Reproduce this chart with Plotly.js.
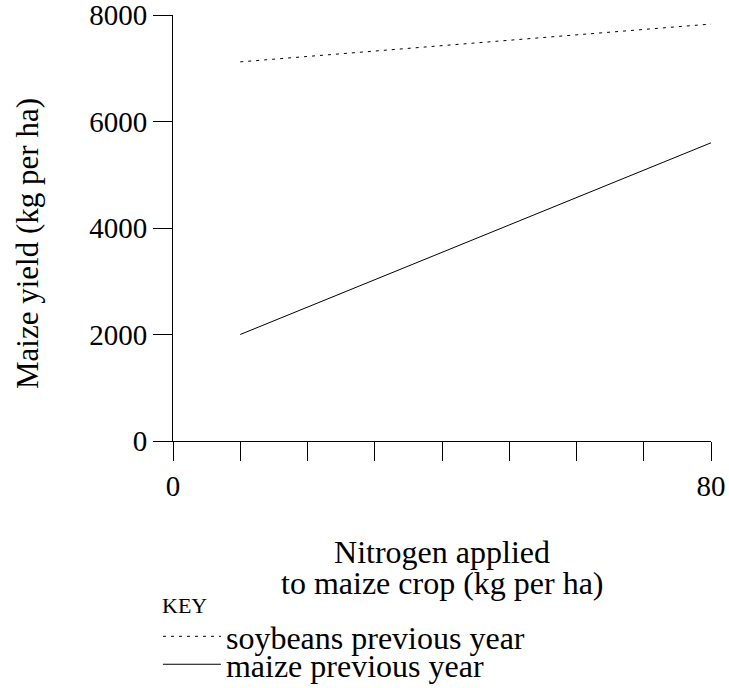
<!DOCTYPE html>
<html>
<head>
<meta charset="utf-8">
<script src="https://cdn.plot.ly/plotly-3.0.1.min.js"></script>
<style>html,body{margin:0;padding:0;background:#fff;}#chart{width:729px;height:688px;}</style>
</head>
<body>
<div id="chart"></div>
<script>
// Data
const nitrogen = [10, 80];
const soybeansPrev = [7120, 7830];
const maizePrev = [2000, 5600];
const xTickVals = [0, 10, 20, 30, 40, 50, 60, 70, 80];
const xTickText = ['0', '', '', '', '', '', '', '', '80'];
const yTickVals = [0, 2000, 4000, 6000, 8000];
const yTickText = ['0', '2000', '4000', '6000', '8000'];
const seriesNames = ['soybeans previous year', 'maize previous year'];

const serif = '"Liberation Serif", "Times New Roman", serif';

const traces = [
  {x: nitrogen, y: soybeansPrev, mode: 'lines', name: seriesNames[0], legend: 'legend',
   line: {color: '#000', width: 1, dash: '3px,5px'}},
  {x: nitrogen, y: maizePrev, mode: 'lines', name: seriesNames[1], legend: 'legend2',
   line: {color: '#000', width: 1}}
];

const legendCommon = {
  xanchor: 'left', yanchor: 'top',
  font: {size: 32, family: serif, color: '#000'},
  bgcolor: 'rgba(0,0,0,0)', borderwidth: 0, itemwidth: 58
};

const layout = {
  width: 729, height: 688,
  margin: {l: 173, r: 18, t: 15, b: 247, autoexpand: false},
  paper_bgcolor: '#fff', plot_bgcolor: '#fff',
  font: {family: serif, size: 29, color: '#000'},
  showlegend: true,
  legend: Object.assign({}, legendCommon, {x: -0.028, y: -0.3944}),
  legend2: Object.assign({}, legendCommon, {x: -0.028, y: -0.460}),
  xaxis: {
    range: [0, 80], tickvals: xTickVals, ticktext: xTickText,
    ticks: 'outside', ticklen: 19, tickcolor: '#000', tickwidth: 1,
    showline: true, linecolor: '#000', linewidth: 1,
    showgrid: false, zeroline: false, ticklabeloverflow: 'allow',
    tickfont: {size: 29, family: serif, color: '#000'},
    title: {text: 'Nitrogen applied', font: {size: 32, family: serif, color: '#000'}, standoff: 39}
  },
  yaxis: {
    range: [0, 8000], tickvals: yTickVals, ticktext: yTickText,
    ticks: 'outside', ticklen: 19, tickcolor: '#000', tickwidth: 1,
    showline: true, linecolor: '#000', linewidth: 1,
    showgrid: false, zeroline: false, ticklabeloverflow: 'allow',
    tickfont: {size: 29, family: serif, color: '#000'},
    title: {text: 'Maize yield (kg per ha)&nbsp;&nbsp;&nbsp;&nbsp;', font: {size: 31, family: serif, color: '#000'}, standoff: 41}
  },
  annotations: [
    {text: 'to maize crop (kg per ha)', xref: 'paper', yref: 'paper', x: 0.5, y: -0.334,
     xanchor: 'center', yanchor: 'middle', showarrow: false,
     font: {size: 32, family: serif, color: '#000'}},
    {text: 'KEY', xref: 'paper', yref: 'paper', x: -0.0242, y: -0.385,
     xanchor: 'left', yanchor: 'middle', showarrow: false,
     font: {size: 22, family: serif, color: '#000'}}
  ]
};

Plotly.newPlot('chart', traces, layout, {displayModeBar: false, staticPlot: true});
</script>
</body>
</html>
